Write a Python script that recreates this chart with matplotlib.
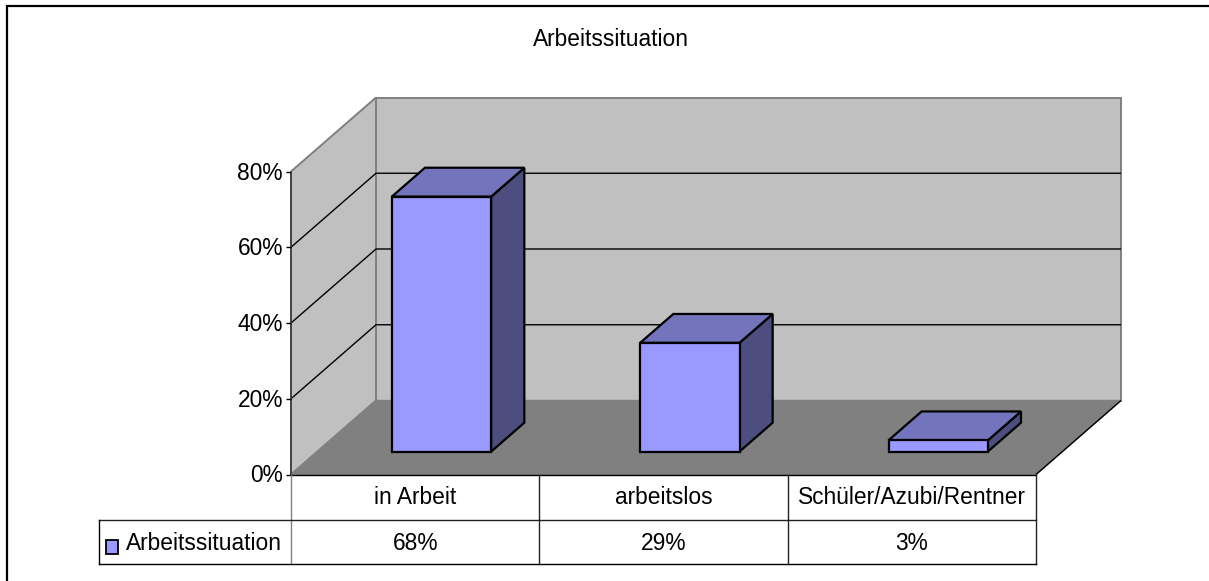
"""
Arbeitssituation: 3D-Säulendiagramm mit Datentabelle
"""

import matplotlib
matplotlib.use('Agg')
import matplotlib.pyplot as plt
from matplotlib.patches import Polygon, Rectangle
from matplotlib.transforms import Affine2D

plt.rcParams['font.family'] = ['Liberation Sans', 'DejaVu Sans']

# Daten
title = 'Arbeitssituation'
categories = ['in Arbeit', 'arbeitslos', 'Schüler/Azubi/Rentner']
values = [68, 29, 3]
value_labels = ['68%', '29%', '3%']
y_ticks = [0, 20, 40, 60, 80]

# Farben
WALL = '#c0c0c0'
FLOOR = '#808080'
EDGE_GRAY = '#808080'
BAR_FRONT = '#9999ff'
BAR_TOP = '#7474bd'
BAR_SIDE = '#4d4d80'

W, H = 1209, 581
DPI = 100
FONT_SIZE = 16.4

# Schräge Tiefe der Box in Pixeln
DEPTH_X, DEPTH_Y = 85, 74
BAR_WIDTH = 0.4
BAR_DEPTH_START, BAR_DEPTH_END = 0.31, 0.70
BAR_SCALE = 0.99  # Säulen stehen weiter hinten und wirken etwas kleiner


def px_box(x0, y_top, x1, y_bottom):
    """Pixelkoordinaten (oben links) in Figure-Anteile umrechnen"""
    return [x0 / W, 1 - y_bottom / H, (x1 - x0) / W, (y_bottom - y_top) / H]


fig = plt.figure(figsize=(W / DPI, H / DPI), dpi=DPI, facecolor='white')

# Rahmen um das Diagramm, rechts und unten läuft er aus dem Bild
bg = fig.add_axes([0, 0, 1, 1])
bg.set_xlim(0, W)
bg.set_ylim(H, 0)
bg.axis('off')
bg.add_patch(Rectangle((7, 6), 1300, 700, fc='white', ec='black', lw=1.6))
bg.text(611, 40, title, ha='center', va='center', fontsize=FONT_SIZE, color='black')

# Hauptachse: x = Kategorien, y = Prozent, vordere Ebene der Box
ax = fig.add_axes(px_box(291, 171.5, 1036, 474.5))
ax.set_xlim(0, len(categories))
ax.set_ylim(0, y_ticks[-1])
ax.axis('off')


def depth_trans(d):
    """Transformation für eine Ebene in der Tiefe d (0 vorne, 1 hinten)"""
    return ax.transData + Affine2D().translate(DEPTH_X * d, DEPTH_Y * d)


def to_front(x, y, d):
    """Datenpunkt auf Tiefe d in Display-Koordinaten"""
    return depth_trans(d).transform((x, y))


def poly(points, **kwargs):
    """Polygon aus Display-Koordinaten zeichnen"""
    patch = Polygon(points, closed=True, transform=None, clip_on=False, **kwargs)
    ax.add_patch(patch)
    return patch


def line(points, **kwargs):
    xs, ys = zip(*points)
    ax.plot(xs, ys, transform=None, clip_on=False, solid_capstyle='butt', **kwargs)


n = len(categories)
top = y_ticks[-1]

# Wände und Boden
poly([to_front(0, 0, 1), to_front(n, 0, 1), to_front(n, top, 1), to_front(0, top, 1)],
     fc=WALL, ec=EDGE_GRAY, lw=1.4, zorder=1)
poly([to_front(0, 0, 0), to_front(0, 0, 1), to_front(0, top, 1), to_front(0, top, 0)],
     fc=WALL, ec=EDGE_GRAY, lw=1.4, zorder=1)
poly([to_front(0, 0, 0), to_front(n, 0, 0), to_front(n, 0, 1), to_front(0, 0, 1)],
     fc=FLOOR, ec=EDGE_GRAY, lw=1.0, zorder=2)
line([to_front(n, 0, 0), to_front(n, 0, 1)], color='black', lw=1.0, zorder=2)

# Gitterlinien an Seiten- und Rückwand
for t in y_ticks[1:-1]:
    line([to_front(0, t, 0), to_front(0, t, 1), to_front(n, t, 1)],
         color='black', lw=1.0, zorder=2)

# Y-Achse mit Teilstrichen
line([to_front(0, 0, 0), to_front(0, top, 0)], color='#404040', lw=1.3, zorder=3)
for t in y_ticks:
    x0, y0 = to_front(0, t, 0)
    line([(x0 - 5, y0), (x0, y0)], color='black', lw=1.0, zorder=3)
    ax.text(x0 - 8, y0 - 1.5, f'{t}%', transform=None, ha='right', va='center',
            fontsize=FONT_SIZE, color='black', clip_on=False)

# Säulen
for i, v in enumerate(values):
    h = v * BAR_SCALE
    left = i + 0.5 - BAR_WIDTH / 2
    right = i + 0.5 + BAR_WIDTH / 2
    d0, d1 = BAR_DEPTH_START, BAR_DEPTH_END
    style = dict(ec='black', lw=1.6, joinstyle='miter', zorder=5)
    poly([to_front(right, 0, d0), to_front(right, 0, d1),
          to_front(right, h, d1), to_front(right, h, d0)], fc=BAR_SIDE, **style)
    poly([to_front(left, h, d0), to_front(right, h, d0),
          to_front(right, h, d1), to_front(left, h, d1)], fc=BAR_TOP, **style)
    poly([to_front(left, 0, d0), to_front(right, 0, d0),
          to_front(right, h, d0), to_front(left, h, d0)], fc=BAR_FRONT, **style)

# Datentabelle unter dem Diagramm
row_split = 45.5 / 89.5 * 2
table = fig.add_axes(px_box(99.5, 474.5, 1036, 564))
table.set_xlim(-191.5 / 248.33, n)
table.set_ylim(2, 0)
table.axis('off')
x_min = table.get_xlim()[0]
table.plot([0, n], [0, 0], color='black', lw=1.0, clip_on=False)
table.plot([0, 0], [0, 2], color=EDGE_GRAY, lw=1.0, clip_on=False)
for k in range(1, n + 1):
    table.plot([k, k], [0, 2], color='#202020', lw=1.0, clip_on=False)
table.plot([x_min, n], [row_split, row_split], color='#202020', lw=1.0, clip_on=False)
table.plot([x_min, n], [2, 2], color='black', lw=1.0, clip_on=False)
table.plot([x_min, x_min], [row_split, 2], color='black', lw=1.0, clip_on=False)
for i, (cat, lab) in enumerate(zip(categories, value_labels)):
    table.text(i + 0.5, row_split / 2, cat, ha='center', va='center', fontsize=FONT_SIZE)
    table.text(i + 0.5, (row_split + 2) / 2 + 0.03, lab, ha='center', va='center',
               fontsize=FONT_SIZE)

# Legendeneintrag in der ersten Spalte
bg.add_patch(Rectangle((106, 540), 12, 13.5, fc=BAR_FRONT, ec='black', lw=1.3))
bg.text(126, 544, title, ha='left', va='center', fontsize=FONT_SIZE)

fig.savefig('out.png', dpi=DPI)
